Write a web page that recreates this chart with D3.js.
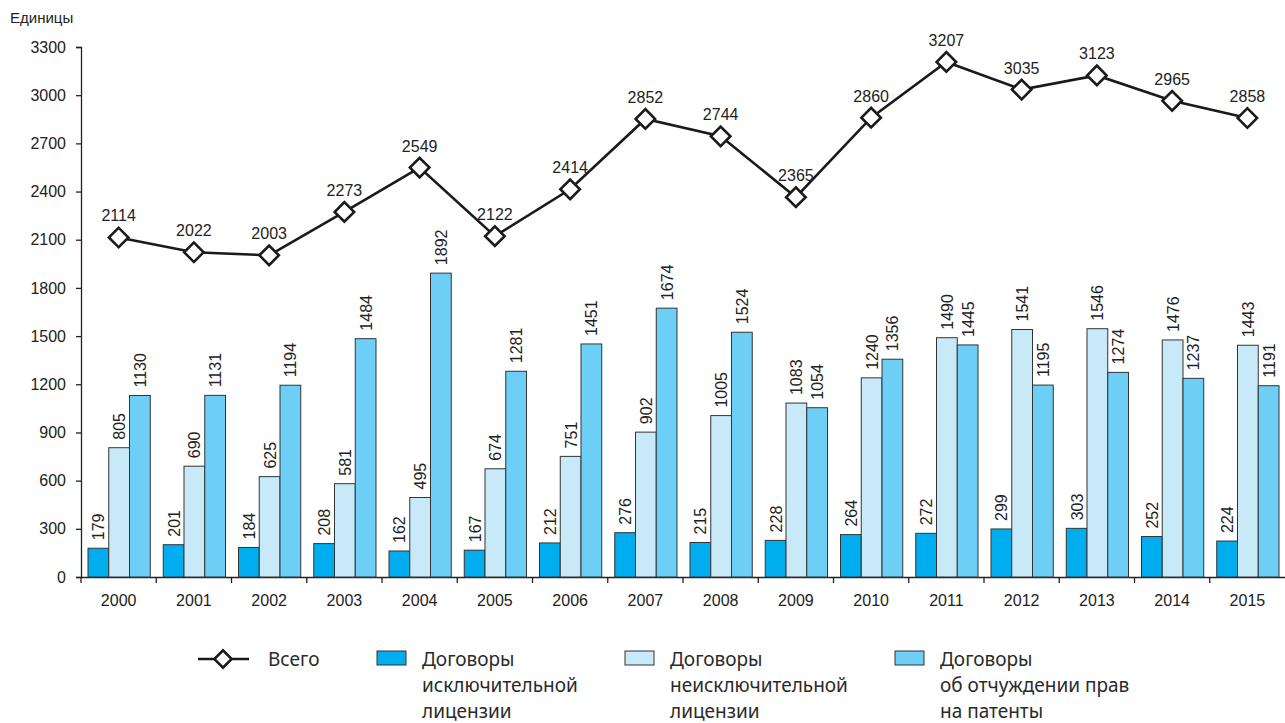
<!DOCTYPE html>
<html>
<head>
<meta charset="utf-8">
<script src="https://cdn.jsdelivr.net/npm/d3@7"></script>
<style>
  body { margin: 0; background: #fff; }
  svg { display: block; }
  .axis text { font-family: "Liberation Sans", Arial, sans-serif; font-size: 16px; fill: #222; }
  .lbl { font-family: "Liberation Sans", Arial, sans-serif; font-size: 16px; fill: #222; }
  .leg { font-family: "Noto Sans", "Open Sans", sans-serif; font-size: 19px; fill: #2a2a2a; }
</style>
</head>
<body>
<div class="chart"></div>
<script>
// data
const years = ["2000","2001","2002","2003","2004","2005","2006","2007","2008","2009","2010","2011","2012","2013","2014","2015"];
const total = [2114,2022,2003,2273,2549,2122,2414,2852,2744,2365,2860,3207,3035,3123,2965,2858];
const exclusive = [179,201,184,208,162,167,212,276,215,228,264,272,299,303,252,224];
const nonExclusive = [805,690,625,581,495,674,751,902,1005,1083,1240,1490,1541,1546,1476,1443];
const alienation = [1130,1131,1194,1484,1892,1281,1451,1674,1524,1054,1356,1445,1195,1274,1237,1191];
const yTicks = [0,300,600,900,1200,1500,1800,2100,2400,2700,3000,3300];

const seriesNames = ["exclusive","nonExclusive","alienation"];
const seriesData = [exclusive, nonExclusive, alienation];
const colors = ["#00aeef", "#c8e9f8", "#6dcff6"];

const W = 1285, H = 723;
const margin = {top: 47, right: 0, bottom: 146, left: 81};
const w = W - margin.left - margin.right;
const h = H - margin.top - margin.bottom;

const root = d3.select(".chart").append("svg")
    .attr("width", W)
    .attr("height", H);

const svg = root.append("g")
    .attr("transform", "translate(" + margin.left + "," + margin.top + ")");

// scales
const x = d3.scaleBand().domain(years).range([0, w]).paddingInner(0).paddingOuter(0);
const xInner = d3.scaleBand().domain(seriesNames).range([7, x.bandwidth() - 6]).padding(0);
const y = d3.scaleLinear().domain([0, 3300]).range([h, 0]);

// units label
root.append("text")
    .attr("x", 10).attr("y", 23)
    .style("font-family", "'Liberation Sans', Arial, sans-serif")
    .style("font-size", "15px")
    .style("fill", "#222")
    .text("Единицы");

// y axis
const yAxis = svg.append("g")
    .attr("class", "axis")
    .call(d3.axisLeft(y).tickValues(yTicks).tickSize(5).tickPadding(10).tickFormat(d3.format("d")));
yAxis.select(".domain").attr("stroke", "#222").attr("stroke-width", 1.3);
yAxis.selectAll(".tick line").attr("stroke", "#222").attr("stroke-width", 1.3);

// x axis
const xAxis = svg.append("g")
    .attr("class", "axis")
    .attr("transform", "translate(0," + h + ")")
    .call(d3.axisBottom(x).tickSize(0).tickPadding(18));
xAxis.select(".domain").attr("stroke", "#222").attr("stroke-width", 1.3);
xAxis.selectAll(".tick line").remove();
// tick marks at band boundaries
xAxis.selectAll(".bound")
    .data(years)
    .enter().append("line")
        .attr("x1", d => x(d)).attr("x2", d => x(d))
        .attr("y1", 0).attr("y2", 6)
        .attr("stroke", "#222").attr("stroke-width", 1.3);

// bars
seriesNames.forEach((s, i) => {
    const g = svg.append("g");
    g.selectAll("rect")
        .data(years)
        .enter().append("rect")
            .attr("x", d => x(d) + xInner(s))
            .attr("y", (d, j) => y(seriesData[i][j]))
            .attr("width", xInner.bandwidth())
            .attr("height", (d, j) => h - y(seriesData[i][j]))
            .attr("fill", colors[i])
            .attr("stroke", "#333")
            .attr("stroke-width", 1);
    g.selectAll("text")
        .data(years)
        .enter().append("text")
            .attr("class", "lbl")
            .attr("transform", (d, j) => "translate(" + (x(d) + xInner(s) + xInner.bandwidth() / 2 + 6) + "," + (y(seriesData[i][j]) - 8) + ") rotate(-90)")
            .text((d, j) => seriesData[i][j]);
});

// total line
const line = d3.line()
    .x((d, j) => x(years[j]) + x.bandwidth() / 2)
    .y(d => y(d));

svg.append("path")
    .datum(total)
    .attr("d", line)
    .attr("fill", "none")
    .attr("stroke", "#1a1a1a")
    .attr("stroke-width", 2.6);

const diamond = d3.symbol().type(d3.symbolSquare).size(190);
svg.selectAll(".marker")
    .data(total)
    .enter().append("path")
        .attr("d", diamond)
        .attr("transform", (d, j) => "translate(" + (x(years[j]) + x.bandwidth() / 2) + "," + y(d) + ") rotate(45)")
        .attr("fill", "#fff")
        .attr("stroke", "#1a1a1a")
        .attr("stroke-width", 2.6);

svg.selectAll(".tlabel")
    .data(total)
    .enter().append("text")
        .attr("class", "lbl")
        .attr("x", (d, j) => x(years[j]) + x.bandwidth() / 2)
        .attr("y", d => y(d) - 16)
        .attr("text-anchor", "middle")
        .text(d => d);

// legend
const leg = root.append("g");
leg.append("line")
    .attr("x1", 198).attr("x2", 249).attr("y1", 659).attr("y2", 659)
    .attr("stroke", "#1a1a1a").attr("stroke-width", 2.6);
leg.append("path")
    .attr("d", d3.symbol().type(d3.symbolSquare).size(150))
    .attr("transform", "translate(223,659) rotate(45)")
    .attr("fill", "#fff").attr("stroke", "#1a1a1a").attr("stroke-width", 2.6);
leg.append("text").attr("class", "leg").attr("x", 268).attr("y", 666).text("Всего");

const legItems = [
    {x: 377, lines: ["Договоры", "исключительной", "лицензии"]},
    {x: 625, lines: ["Договоры", "неисключительной", "лицензии"]},
    {x: 895, lines: ["Договоры", "об отчуждении прав", "на патенты"]}
];
legItems.forEach((it, i) => {
    leg.append("rect")
        .attr("x", it.x).attr("y", 651).attr("width", 29).attr("height", 14)
        .attr("fill", colors[i]).attr("stroke", "#333").attr("stroke-width", 1);
    const t = leg.append("text").attr("class", "leg").attr("x", it.x + 45).attr("y", 666);
    it.lines.forEach((l, k) => {
        t.append("tspan").attr("x", it.x + 45).attr("dy", k === 0 ? 0 : 26).text(l);
    });
});
</script>
</body>
</html>
